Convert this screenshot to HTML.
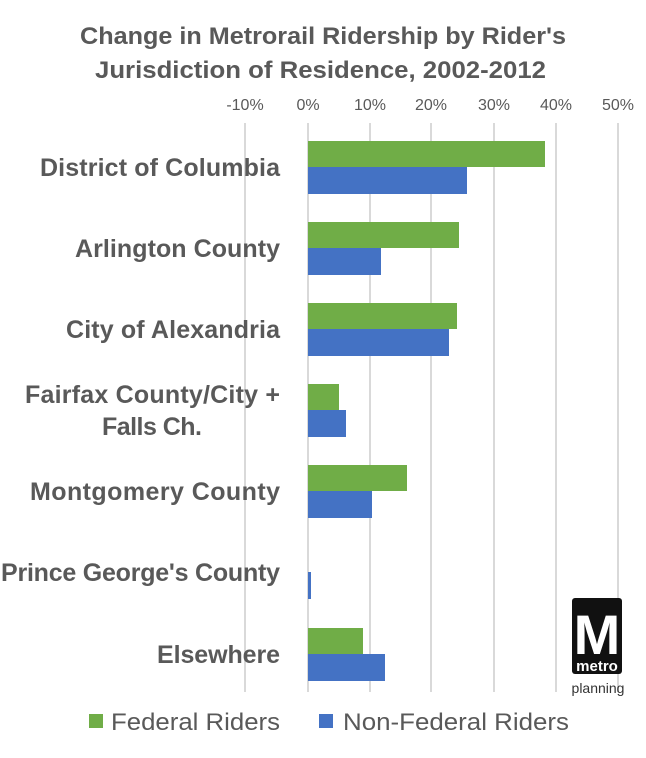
<!DOCTYPE html>
<html><head><style>body{margin:0;background:#fff}svg{display:block}</style></head><body>
<svg width="646" height="758" xmlns="http://www.w3.org/2000/svg" font-family="Liberation Sans, sans-serif">
<rect width="646" height="758" fill="#fff"/>
<text x="80" y="44" textLength="486" lengthAdjust="spacingAndGlyphs" font-size="24" font-weight="bold" fill="#595959">Change in Metrorail Ridership by Rider's</text>
<text x="95" y="78" textLength="451" lengthAdjust="spacingAndGlyphs" font-size="24" font-weight="bold" fill="#595959">Jurisdiction of Residence, 2002-2012</text>
<g font-size="16" fill="#595959" text-anchor="middle">
<text x="245" y="110">-10%</text><text x="308" y="110">0%</text><text x="370" y="110">10%</text><text x="431" y="110">20%</text><text x="494" y="110">30%</text><text x="556" y="110">40%</text><text x="618" y="110">50%</text>
</g>
<g stroke="#d9d9d9" stroke-width="2">
<line x1="245" y1="123" x2="245" y2="692"/><line x1="308" y1="123" x2="308" y2="692"/><line x1="370" y1="123" x2="370" y2="692"/><line x1="431" y1="123" x2="431" y2="692"/><line x1="494" y1="123" x2="494" y2="692"/><line x1="556" y1="123" x2="556" y2="692"/><line x1="618" y1="123" x2="618" y2="692"/>
</g>
<g fill="#70ad47">
<rect x="308" y="141" width="237" height="26"/>
<rect x="308" y="222" width="151" height="26"/>
<rect x="308" y="303" width="149" height="26"/>
<rect x="308" y="384" width="31" height="26"/>
<rect x="308" y="465" width="99" height="26"/>
<rect x="308" y="628" width="55" height="26"/>
</g>
<g fill="#4472c4">
<rect x="308" y="167" width="159" height="27"/>
<rect x="308" y="248" width="73" height="27"/>
<rect x="308" y="329" width="141" height="27"/>
<rect x="308" y="410" width="38" height="27"/>
<rect x="308" y="491" width="64" height="27"/>
<rect x="308" y="572" width="3" height="27"/>
<rect x="308" y="654" width="77" height="27"/>
</g>
<g font-size="25" font-weight="bold" fill="#595959" lengthAdjust="spacingAndGlyphs">
<text x="40" y="176" textLength="240">District of Columbia</text>
<text x="75" y="257" textLength="205">Arlington County</text>
<text x="66" y="338" textLength="214">City of Alexandria</text>
<text x="25" y="403" textLength="255">Fairfax County/City +</text>
<text x="102" y="435" textLength="100">Falls Ch.</text>
<text x="30" y="500" textLength="250">Montgomery County</text>
<text x="1" y="581" textLength="279">Prince George's County</text>
<text x="157" y="663" textLength="123">Elsewhere</text>
</g>
<rect x="572" y="598" width="50" height="76" rx="3" fill="#111"/>
<text x="597" y="654" text-anchor="middle" font-size="56" font-weight="bold" fill="#fff">M</text>
<text x="597" y="671" text-anchor="middle" font-size="15" font-weight="bold" fill="#fff">metro</text>
<text x="598" y="693" text-anchor="middle" font-size="14" fill="#333">planning</text>
<rect x="89" y="714" width="14" height="14" fill="#70ad47"/>
<text x="111" y="730" font-size="24" fill="#595959" textLength="169" lengthAdjust="spacingAndGlyphs">Federal Riders</text>
<rect x="319" y="714" width="14" height="14" fill="#4472c4"/>
<text x="343" y="730" font-size="24" fill="#595959" textLength="226" lengthAdjust="spacingAndGlyphs">Non-Federal Riders</text>
</svg>
</body></html>
